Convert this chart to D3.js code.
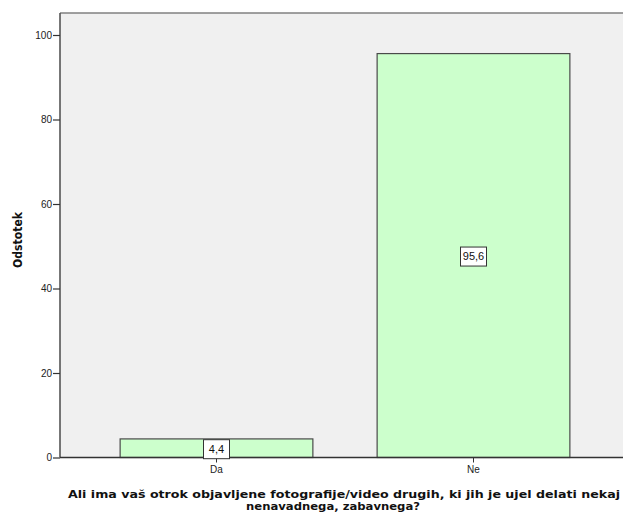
<!DOCTYPE html>
<html><head><meta charset="utf-8">
<script src="https://cdn.jsdelivr.net/npm/d3@7"></script>
<style>html,body{margin:0;padding:0;background:#fff;}svg{display:block;}</style>
</head><body>
<script>
const categories = ["Da", "Ne"];
const values = [4.4, 95.6];
const valueLabels = ["4,4", "95,6"];
const yTicks = [0, 20, 40, 60, 80, 100];
const yTitle = "Odstotek";
const xTitleLines = ["Ali ima vaš otrok objavljene fotografije/video drugih, ki jih je ujel delati nekaj", "nenavadnega, zabavnega?"];

const W = 623, H = 520;
const svg = d3.select("body").append("svg").attr("width", W).attr("height", H);
const plot = {left: 60, top: 13, right: 640, bottom: 457.5};

const y = d3.scaleLinear().domain([0, 100]).range([plot.bottom, plot.bottom - 100 * 4.225]);
const x = d3.scaleBand().domain(categories).range([88, 602]).paddingInner(0.25).paddingOuter(0.125);

svg.append("rect").attr("x", plot.left).attr("y", plot.top)
  .attr("width", plot.right - plot.left).attr("height", plot.bottom - plot.top)
  .attr("fill", "#f0f0f0");
svg.append("line").attr("x1", plot.left).attr("x2", W).attr("y1", plot.top).attr("y2", plot.top)
  .attr("stroke", "#808080").attr("stroke-width", 1.6);

const data = categories.map((c, i) => ({c, v: values[i], l: valueLabels[i]}));

svg.selectAll("rect.bar").data(data).enter().append("rect").attr("class", "bar")
  .attr("x", d => x(d.c)).attr("y", d => y(d.v))
  .attr("width", x.bandwidth()).attr("height", d => y(0) - y(d.v))
  .attr("fill", "#ccffcc").attr("stroke", "#4a4a4a").attr("stroke-width", 1.2);

const yAxis = d3.axisLeft(y).tickValues(yTicks).tickSize(7).tickPadding(1);
const gy = svg.append("g").attr("transform", `translate(${plot.left},0)`).call(yAxis);
gy.select(".domain").attr("d", `M0,${plot.top}V${plot.bottom}`).attr("stroke", "#555").attr("stroke-width", 1.6);
gy.selectAll(".tick line").attr("stroke", "#333").attr("stroke-width", 1.2);
gy.selectAll(".tick text").attr("font-family", "Liberation Sans, Arial, sans-serif").attr("font-size", 10).attr("fill", "#222");

const xAxis = d3.axisBottom(x).tickSize(5).tickPadding(3);
const gx = svg.append("g").attr("transform", `translate(0,${plot.bottom})`).call(xAxis);
gx.select(".domain").attr("d", `M${plot.left},0H${W}`).attr("stroke", "#333").attr("stroke-width", 1.4);
gx.selectAll(".tick line").attr("stroke", "#333");
gx.selectAll(".tick text").attr("font-family", "Liberation Sans, Arial, sans-serif").attr("font-size", 10).attr("fill", "#222");

const lab = svg.selectAll("g.lab").data(data).enter().append("g").attr("class", "lab")
  .attr("transform", d => `translate(${x(d.c) + x.bandwidth() / 2},${(y(d.v) + y(0)) / 2 + 1})`);
lab.append("rect").attr("x", -13).attr("y", -9.5).attr("width", 26).attr("height", 19)
  .attr("fill", "#fff").attr("stroke", "#333").attr("stroke-width", 1);
lab.append("text").text(d => d.l).attr("text-anchor", "middle").attr("dy", "0.35em")
  .attr("font-family", "Liberation Sans, Arial, sans-serif").attr("font-size", 11).attr("fill", "#111");

svg.append("text").text(yTitle).attr("transform", "translate(22,240) rotate(-90)")
  .attr("text-anchor", "middle").attr("font-family", "DejaVu Sans, Verdana, sans-serif")
  .attr("font-weight", "bold").attr("font-size", 12).attr("fill", "#111")
  .attr("textLength", 56).attr("lengthAdjust", "spacingAndGlyphs");

const tx = [344, 333];
const tw = [552, 174];
xTitleLines.forEach((t, i) => {
  svg.append("text").text(t).attr("x", tx[i]).attr("y", 498 + i * 12)
    .attr("text-anchor", "middle").attr("font-family", "DejaVu Sans, Verdana, sans-serif")
    .attr("font-weight", "bold").attr("font-size", 11).attr("fill", "#111")
    .attr("textLength", tw[i]).attr("lengthAdjust", "spacingAndGlyphs");
});
</script>
</body></html>
